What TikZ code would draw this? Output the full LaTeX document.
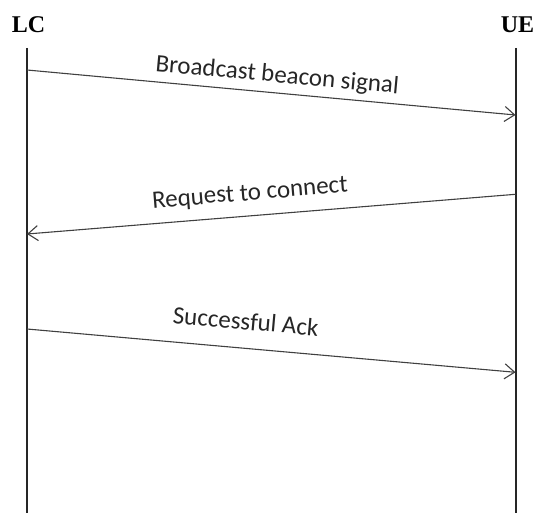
\documentclass[tikz,border=0pt]{standalone}
\usepackage{fontspec}
\setmainfont{Liberation Serif}
\newfontfamily\msgfont{Carlito}
\usetikzlibrary{arrows.meta}
\begin{document}
\begin{tikzpicture}[x=1pt,y=-1pt,
  actor/.style={font=\fontsize{24}{24}\selectfont\bfseries, inner sep=0pt, anchor=base},
  lifeline/.style={line width=2pt, draw=black!85},
  msg/.style={line width=1.1pt, draw=black!75, -{Straight Barb[length=10pt,width=15pt,line width=1.1pt]}},
  msglabel/.style={font=\msgfont\fontsize{25}{25}\selectfont, sloped, above, inner sep=0pt,
    text depth=0pt, text=black!85}
]
\useasboundingbox (0,0) rectangle (534,513);

% participants
\node[actor] (lc) at (28.5,33) {LC};
\node[actor] (ue) at (517.5,33) {UE};

% lifelines
\coordinate (lctop) at (27,48);
\coordinate (lcbot) at (27,513);
\coordinate (uetop) at (515.5,48);
\coordinate (uebot) at (515.5,513);
\draw[lifeline] (lctop) -- (lcbot);
\draw[lifeline] (uetop) -- (uebot);

% message end points
\coordinate (m1a) at (27,70);
\coordinate (m1b) at (515.5,115);
\coordinate (m2a) at (515.5,194.3);
\coordinate (m2b) at (27,234);
\coordinate (m3a) at (27,329);
\coordinate (m3b) at (515.5,372.3);

% messages
\draw[msg] (m1a) -- node[msglabel, pos=0.509, yshift=10pt] {Broadcast beacon signal} (m1b);
\draw[msg] (m2a) -- node[msglabel, pos=0.540, yshift=15pt] {Request to connect} (m2b);
\draw[msg] (m3a) -- node[msglabel, pos=0.443, yshift=18pt] {Successful Ack} (m3b);
\end{tikzpicture}
\end{document}
